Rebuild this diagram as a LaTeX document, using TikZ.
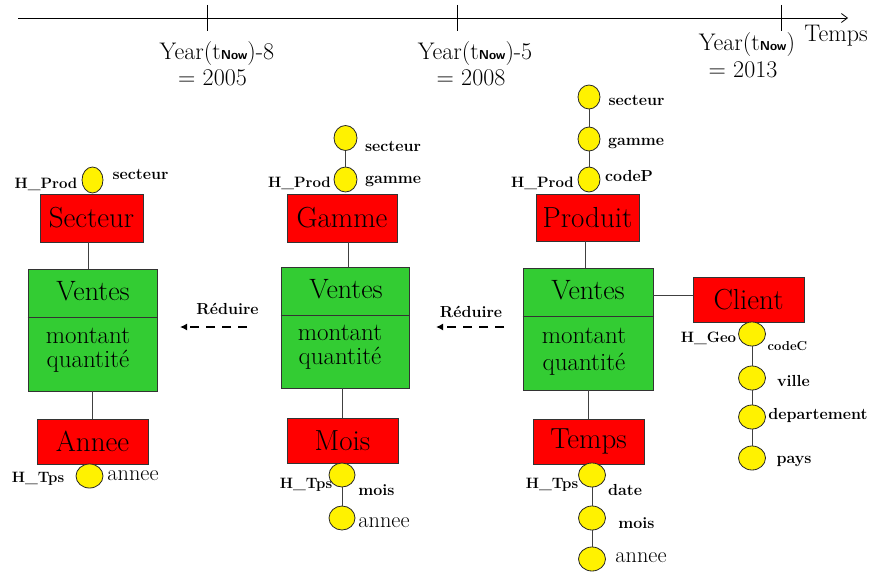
\documentclass[tikz,border=0pt]{standalone}
\usetikzlibrary{shapes.geometric,arrows.meta}
\definecolor{boxgreen}{RGB}{51,204,51}
\begin{document}
\begin{tikzpicture}[x=1pt,y=-1pt,
  redbox/.style={draw=black!80, line width=0.9pt, fill=red, inner sep=0pt, font=\fontsize{29}{31}\selectfont},
  greenbox/.style={draw=black!80, line width=0.9pt, fill=boxgreen, inner sep=0pt},
  yel/.style={ellipse, draw=black!85, line width=0.8pt, fill=yellow, inner sep=0pt, minimum width=24pt, minimum height=24pt},
  lab/.style={inner sep=0pt, font=\fontsize{16}{18}\selectfont\bfseries},
  hlab/.style={inner sep=0pt, font=\fontsize{15}{17}\selectfont\bfseries},
  slab/.style={inner sep=0pt, font=\fontsize{13}{15}\selectfont\bfseries},
  rlab/.style={inner sep=0pt, font=\fontsize{22.3}{24}\selectfont},
  mlab/.style={inner sep=0pt, font=\fontsize{25}{27}\selectfont},
  vlab/.style={inner sep=0pt, font=\fontsize{28}{30}\selectfont},
  tlab/.style={inner sep=0pt, font=\fontsize{24}{26}\selectfont},
  conn/.style={draw=black!75, line width=0.8pt},
  reduce/.style={line width=2.2pt, dash pattern=on 9pt off 7pt, -{Latex[length=7pt,width=7pt]}}
]
\useasboundingbox (0,0) rectangle (874,572);
\newcommand{\tnow}{t{\sffamily\bfseries\fontsize{13}{13}\selectfont Now}}

% ---------------- timeline ----------------
\coordinate (ta) at (18,18);
\coordinate (tb) at (848,18);
\draw[line width=0.8pt, -{Straight Barb[length=6pt,width=9pt]}] (ta) -- (tb);
\coordinate (k1a) at (207,5); \coordinate (k1b) at (207,31);
\coordinate (k2a) at (457,5); \coordinate (k2b) at (457,31);
\coordinate (k3a) at (781,5); \coordinate (k3b) at (781,31);
\draw[line width=0.8pt] (k1a) -- (k1b) (k2a) -- (k2b) (k3a) -- (k3b);
\node[tlab] (y1) at (217,54) {Year(\tnow)-8};
\node[tlab] (y1b) at (212.5,78) {= 2005};
\node[tlab] (y2) at (475,54) {Year(\tnow)-5};
\node[tlab] (y2b) at (471,78) {= 2008};
\node[tlab] (y3) at (747,45) {Year(\tnow)};
\node[tlab] (y3b) at (743,70) {= 2013};
\node[tlab] (tps) at (836,36) {Temps};

% ---------------- left group ----------------
\node[yel, minimum width=21pt, minimum height=26pt] (ls) at (92.5,180) {};
\node[lab] (lsl) at (140.5,174) {secteur};
\node[hlab] (lhp) at (46,184) {H\_Prod};
\node[redbox, minimum width=103pt, minimum height=48pt] (sect) at (91.5,218) {Secteur};
\node[greenbox, minimum width=129pt, minimum height=122pt] (v1) at (92.5,330) {};
\draw[line width=0.9pt, draw=black!80] (v1.west |- 0,317) -- (v1.east |- 0,317);
\node[vlab] (v1t) at (93,291) {Ventes};
\node[mlab] (v1m) at (88,336) {montant};
\node[mlab] (v1q) at (88,361) {quantité};
\node[redbox, minimum width=111pt, minimum height=45pt] (ann) at (92.5,441.5) {Annee};
\node[yel, minimum width=27pt, minimum height=24pt] (la) at (89.5,476) {};
\node[hlab] (lht) at (38,479) {H\_Tps};
\node[rlab] (lal) at (133,476) {annee};
\draw[conn] ([xshift=-3.5pt]sect.south) -- ([xshift=-3.5pt]sect.south |- v1.north);
\draw[conn] (v1.south) -- (v1.south |- ann.north);

% reduce arrow 1
\node[lab] (r1) at (227.5,309) {Réduire};
\coordinate (r1s) at (247,327);
\coordinate (r1e) at (180,327);
\draw[reduce] (r1s) -- (r1e);

% ---------------- middle group ----------------
\node[yel, minimum width=23pt, minimum height=25pt] (ms) at (345.5,138) {};
\node[yel, minimum width=23pt, minimum height=25pt] (mg) at (345.5,179.5) {};
\draw[conn] (ms) -- (mg);
\node[lab] (msl) at (393,146) {secteur};
\node[lab] (mgl) at (393,181) {gamme};
\node[hlab] (mhp) at (299.5,183) {H\_Prod};
\node[redbox, minimum width=110pt, minimum height=48pt] (gam) at (342,218) {Gamme};
\node[greenbox, minimum width=128pt, minimum height=121pt] (v2) at (345,327.5) {};
\draw[line width=0.9pt, draw=black!80] (v2.west |- 0,315) -- (v2.east |- 0,315);
\node[vlab] (v2t) at (346,289) {Ventes};
\node[mlab] (v2m) at (340,333) {montant};
\node[mlab] (v2q) at (340,358) {quantité};
\node[redbox, minimum width=111pt, minimum height=45pt] (mois) at (342.5,440.5) {Mois};
\node[yel, minimum width=26pt, minimum height=24pt] (mm) at (342,475) {};
\node[yel, minimum width=26pt, minimum height=24pt] (ma) at (342,518) {};
\draw[conn] (mm) -- (ma);
\node[hlab] (mht) at (306,485) {H\_Tps};
\node[lab] (mml) at (376.5,490) {mois};
\node[rlab] (mal) at (384,523) {annee};
\draw[conn] ([xshift=6pt]gam.south) -- ([xshift=6pt]gam.south |- v2.north);
\draw[conn] ([xshift=-3pt]v2.south) -- ([xshift=-3pt]v2.south |- mois.north);

% reduce arrow 2
\node[lab] (r2) at (471,312) {Réduire};
\coordinate (r2s) at (504,327);
\coordinate (r2e) at (436,327);
\draw[reduce] (r2s) -- (r2e);

% ---------------- right group ----------------
\node[yel, minimum width=22pt, minimum height=24pt] (rs) at (589,97) {};
\node[yel, minimum width=22pt, minimum height=24pt] (rg) at (589,139) {};
\node[yel, minimum width=22pt, minimum height=25pt] (rc) at (589,179.5) {};
\draw[conn] (rs) -- (rg);
\draw[conn] (rg) -- (rc);
\node[lab] (rsl) at (636.5,100) {secteur};
\node[lab] (rgl) at (636,143) {gamme};
\node[lab] (rcl) at (629,176) {codeP};
\node[hlab] (rhp) at (542.5,183) {H\_Prod};
\node[redbox, minimum width=103pt, minimum height=47pt] (prod) at (587.5,217.5) {Produit};
\node[greenbox, minimum width=130pt, minimum height=122pt] (v3) at (588,329) {};
\draw[line width=0.9pt, draw=black!80] (v3.west |- 0,316) -- (v3.east |- 0,316);
\node[vlab] (v3t) at (588,290) {Ventes};
\node[mlab] (v3m) at (584,336) {montant};
\node[mlab] (v3q) at (584,364) {quantité};
\node[redbox, minimum width=111pt, minimum height=45pt] (cli) at (748.5,299.5) {Client};
\draw[conn] ([yshift=4.5pt]cli.west) -- ([yshift=4.5pt]cli.west -| v3.east);
\node[yel, minimum width=27pt, minimum height=24pt] (gc) at (752,334) {};
\node[yel, minimum width=27pt, minimum height=24pt] (gv) at (752,378) {};
\node[yel, minimum width=27pt, minimum height=24pt] (gd) at (752,417) {};
\node[yel, minimum width=27pt, minimum height=24pt] (gp) at (752,458) {};
\draw[conn] (gc) -- (gv);
\draw[conn] (gv) -- (gd);
\draw[conn] (gd) -- (gp);
\node[hlab] (rhg) at (708.5,338) {H\_Geo};
\node[slab] (gcl) at (787.5,346) {codeC};
\node[lab] (gvl) at (793.5,381) {ville};
\node[lab] (gdl) at (818,415) {departement};
\node[lab] (gpl) at (794,461) {pays};
\node[redbox, minimum width=111pt, minimum height=45pt] (temps) at (588.5,441.5) {Temps};
\draw[conn] ([xshift=-2.5pt]prod.south) -- ([xshift=-2.5pt]prod.south |- v3.north);
\draw[conn] (v3.south) -- (v3.south |- temps.north);
\node[yel, minimum width=27pt, minimum height=24pt] (td) at (592,475) {};
\node[yel, minimum width=27pt, minimum height=24pt] (tm) at (592,518) {};
\node[yel, minimum width=27pt, minimum height=24pt] (ty) at (592,559) {};
\draw[conn] (td) -- (tm);
\draw[conn] (tm) -- (ty);
\node[hlab] (rht) at (552,485) {H\_Tps};
\node[lab] (tdl) at (625,490) {date};
\node[lab] (tml) at (636.5,523) {mois};
\node[rlab] (tyl) at (641,558) {annee};
\end{tikzpicture}
\end{document}
